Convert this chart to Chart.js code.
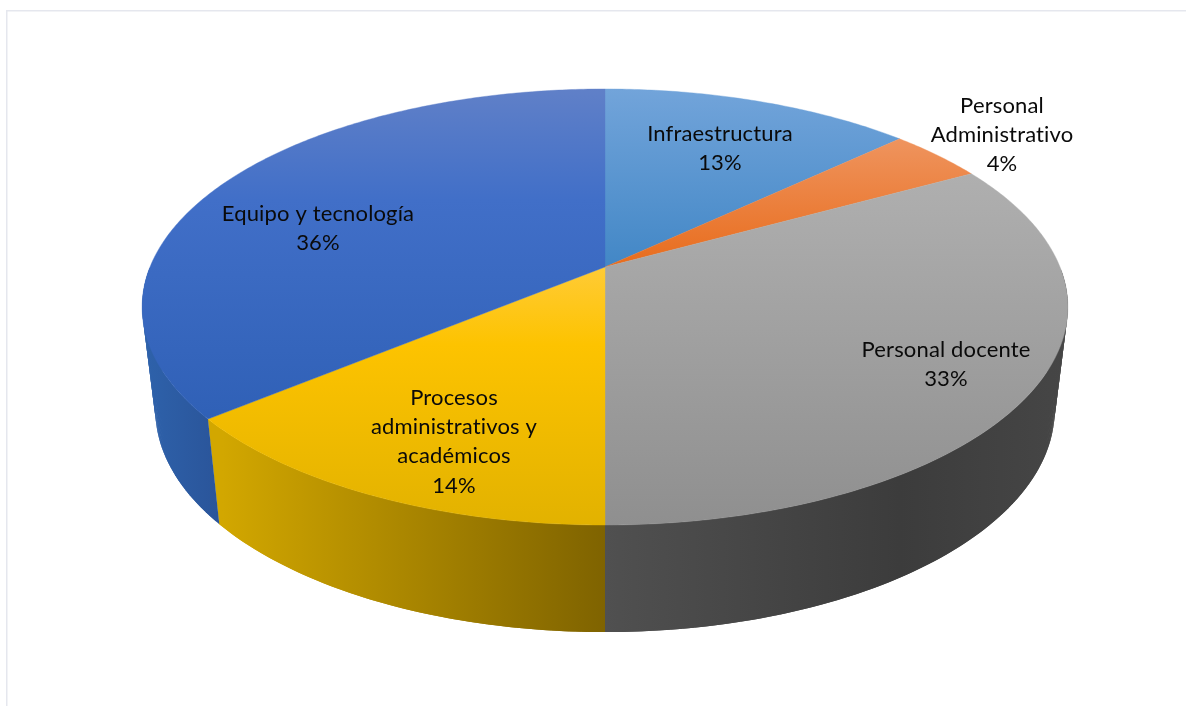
<!DOCTYPE html>
<html lang="es">
<head>
<meta charset="utf-8">
<title>Distribución</title>
<script src="https://cdn.jsdelivr.net/npm/chart.js@4"></script>
<style>
  html, body { margin: 0; padding: 0; background: #fff; }
  canvas { display: block; }
</style>
</head>
<body>
<canvas id="pie3d" width="1186" height="706"></canvas>
<script>
/* pie with a perspective top face and a side wall, on top of Chart.js arcs */
const categories = ['Infraestructura', 'Personal Administrativo', 'Personal docente', 'Procesos administrativos y académicos', 'Equipo y tecnología'];
const shares = [13, 4, 33, 14, 36];
const labelLines = [
  ['Infraestructura', '13%'],
  ['Personal', 'Administrativo', '4%'],
  ['Personal docente', '33%'],
  ['Procesos', 'administrativos y', 'académicos', '14%'],
  ['Equipo y tecnología', '36%']
];

// vertical gradient of each top face: [y, colour] stops
const topShades = [
  [[89, '#72a4da'], [267, '#4287c6']],
  [[135, '#ef9560'], [267, '#e86c1c']],
  [[165, '#b0b0b0'], [525, '#8f8f8f']],
  [[267, '#ffcb36'], [345, '#fdc300'], [525, '#e2b200']],
  [[89, '#6080c8'], [200, '#416fc8'], [425, '#2f60b6']]
];
// horizontal gradient of each side wall: [x, colour] stops
const wallShades = [
  [[900, '#4a4a4a'], [970, '#4a4a4a']],
  [[960, '#444444'], [1067, '#444444']],
  [[605, '#505050'], [900, '#3c3c3c'], [1067, '#464646']],
  [[222, '#d2a700'], [605, '#7f6300']],
  [[143, '#2e62ab'], [222, '#2a5499']]
];

// projective map of the unit disc, one for the top rim and one for the bottom rim
const topRim = { cx: 605, d: 455, a: 161.7, b: 267, c: -0.1835 };
const bottomRim = { cx: 605, d: 442, a: 146.8, b: 369.3, c: -0.1835 };

function project(rim, u, v) {
  const w = 1 + rim.c * v;
  return [rim.cx + rim.d * u / w, (rim.a * v + rim.b) / w];
}

function sampleAngles(start, end) {
  const n = Math.max(8, Math.ceil((end - start) * 90));
  const angles = [];
  for (let i = 0; i <= n; i++) angles.push(start + (end - start) * i / n);
  return angles;
}

function linearFill(ctx, stops, horizontal) {
  const first = stops[0][0], last = stops[stops.length - 1][0];
  const g = horizontal ? ctx.createLinearGradient(first, 0, last, 0) : ctx.createLinearGradient(0, first, 0, last);
  stops.forEach(s => g.addColorStop((s[0] - first) / (last - first), s[1]));
  return g;
}

const pie3dPlugin = {
  id: 'pie3d',
  beforeDraw(chart) {
    // thin frame along the top and left of the sheet
    const ctx = chart.ctx;
    ctx.save();
    ctx.fillStyle = '#e5e7ee';
    ctx.fillRect(6, 10, chart.width - 6, 1.5);
    ctx.fillRect(6, 10, 1.5, chart.height - 10);
    ctx.restore();
  },
  beforeDatasetDraw(chart) {
    const ctx = chart.ctx;
    const arcs = chart.getDatasetMeta(0).data;
    ctx.save();
    // side walls first, only the half facing the viewer, swept as overlapping
    // quads so the outline follows the tangents between the two rims
    arcs.forEach((arc, i) => {
      const angles = sampleAngles(arc.startAngle, arc.endAngle).filter(t => Math.sin(t) > 0);
      if (angles.length < 2) return;
      const top = angles.map(t => project(topRim, Math.cos(t), Math.sin(t)));
      const bottom = angles.map(t => project(bottomRim, Math.cos(t), Math.sin(t)));
      ctx.fillStyle = linearFill(ctx, wallShades[i], true);
      for (let k = 0; k < top.length - 1; k++) {
        const next = Math.min(k + 2, top.length - 1);
        ctx.beginPath();
        ctx.moveTo(top[k][0], top[k][1]);
        ctx.lineTo(top[next][0], top[next][1]);
        ctx.lineTo(bottom[next][0], bottom[next][1]);
        ctx.lineTo(bottom[k][0], bottom[k][1]);
        ctx.closePath();
        ctx.fill();
      }
    });
    arcs.forEach((arc, i) => {
      const centre = project(topRim, 0, 0);
      ctx.beginPath();
      ctx.moveTo(centre[0], centre[1]);
      sampleAngles(arc.startAngle, arc.endAngle).forEach(t => {
        const p = project(topRim, Math.cos(t), Math.sin(t));
        ctx.lineTo(p[0], p[1]);
      });
      ctx.closePath();
      ctx.fillStyle = linearFill(ctx, topShades[i], false);
      ctx.fill();
      // hide the hairline between neighbouring faces
      ctx.strokeStyle = ctx.fillStyle;
      ctx.lineWidth = 0.4;
      ctx.stroke();
    });
    ctx.restore();
    return false;
  },
  afterDatasetsDraw(chart, args, opts) {
    const ctx = chart.ctx;
    ctx.save();
    ctx.font = opts.font;
    ctx.letterSpacing = opts.tracking;
    ctx.fillStyle = opts.color;
    ctx.textAlign = 'center';
    ctx.textBaseline = 'middle';
    labelLines.forEach((lines, i) => {
      const at = opts.anchors[i];
      lines.forEach((line, k) => ctx.fillText(line, at[0], at[1] + k * opts.lineHeight));
    });
    ctx.restore();
  }
};

new Chart(document.getElementById('pie3d'), {
  type: 'pie',
  data: { labels: categories, datasets: [{ data: shares, borderWidth: 0 }] },
  options: {
    responsive: false,
    animation: false,
    layout: { padding: { left: 24 } },
    plugins: {
      legend: { display: false },
      tooltip: { enabled: false },
      pie3d: {
        font: '22px Lato, "Open Sans", sans-serif',
        tracking: '0.15px',
        color: '#0a0a0a',
        lineHeight: 29.2,
        anchors: [[720, 134], [1002, 106], [946, 350], [454, 398], [318, 214]]
      }
    }
  },
  plugins: [pie3dPlugin]
});
</script>
</body>
</html>
